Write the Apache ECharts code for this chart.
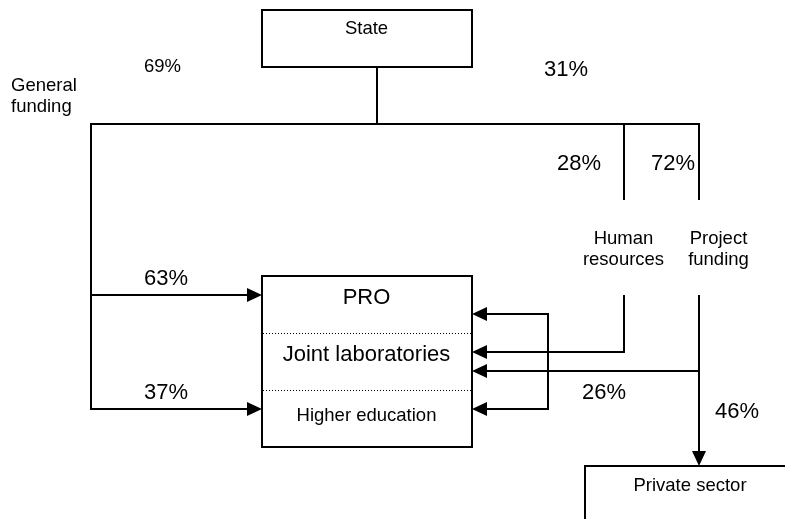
<!DOCTYPE html>
<html><head><meta charset="utf-8">
<script src="https://cdn.jsdelivr.net/npm/echarts@6/dist/echarts.min.js"></script>
<style>html,body{margin:0;padding:0;background:#fff}#c{width:785px;height:519px}</style>
</head><body><div id="c"></div>
<script>
// ---------------- data ----------------
const nodeNames = ['State', 'PRO', 'Joint laboratories', 'Higher education', 'Private sector'];
const channelNames = ['General\nfunding', 'Human\nresources', 'Project\nfunding'];
const stateShares = [69, 31];        // general funding / competitive funding
const generalShares = [63, 37];      // to PRO / to higher education
const competitiveShares = [28, 72];  // human resources / project funding
const projectShares = [26, 46];      // joint laboratories / private sector

// ---------------- layout (diagram units) ----------------
const FONT = '"Liberation Sans", Arial, sans-serif';
const boxLayout = [
  {x0: 262, y0: 10, x1: 472, y1: 67},
  {x0: 262, y0: 276, x1: 472, y1: 447},
  {x0: 585, y0: 466, x1: 810, y1: 560}
];
const dividerLayout = [333, 390];
const linkLayout = [
  {pts: [[377, 67], [377, 124]], start: false, end: false},
  {pts: [[699, 200], [699, 124], [91, 124], [91, 409], [262, 409]], start: false, end: true},
  {pts: [[624, 124], [624, 200]], start: false, end: false},
  {pts: [[91, 295], [262, 295]], start: false, end: true},
  {pts: [[472, 314], [548, 314], [548, 409], [472, 409]], start: true, end: true},
  {pts: [[624, 295], [624, 352], [472, 352]], start: false, end: true},
  {pts: [[699, 295], [699, 466]], start: false, end: true},
  {pts: [[699, 371], [472, 371]], start: false, end: true}
];
const pct = v => v + '%';
const textLayout = [
  {text: nodeNames[0], x: 366.5, y: 29, size: 18.5, align: 'center'},
  {text: nodeNames[1], x: 366.5, y: 298, size: 22, align: 'center'},
  {text: nodeNames[2], x: 366.5, y: 355, size: 22, align: 'center'},
  {text: nodeNames[3], x: 366.5, y: 416, size: 18.5, align: 'center'},
  {text: nodeNames[4], x: 690, y: 486, size: 18.5, align: 'center'},
  {text: channelNames[0], x: 11, y: 96.5, size: 18.5, align: 'left'},
  {text: channelNames[1], x: 623.5, y: 249, size: 18.5, align: 'center'},
  {text: channelNames[2], x: 718.5, y: 249, size: 18.5, align: 'center'},
  {text: pct(stateShares[0]), x: 162.5, y: 67, size: 18.5, align: 'center'},
  {text: pct(stateShares[1]), x: 566, y: 69.5, size: 22, align: 'center'},
  {text: pct(competitiveShares[0]), x: 579, y: 164, size: 22, align: 'center'},
  {text: pct(competitiveShares[1]), x: 673, y: 164, size: 22, align: 'center'},
  {text: pct(generalShares[0]), x: 166, y: 279, size: 22, align: 'center'},
  {text: pct(generalShares[1]), x: 166, y: 392.5, size: 22, align: 'center'},
  {text: pct(projectShares[0]), x: 604, y: 392.5, size: 22, align: 'center'},
  {text: pct(projectShares[1]), x: 737, y: 412, size: 22, align: 'center'}
];

const chart = echarts.init(document.getElementById('c'), null, {renderer: 'canvas'});

function arrowHead(tip, prev) {
  const dx = tip[0] - prev[0], dy = tip[1] - prev[1];
  const len = Math.sqrt(dx * dx + dy * dy) || 1;
  const ux = dx / len, uy = dy / len;
  const L = 15, Wd = 7;
  const bx = tip[0] - ux * L, by = tip[1] - uy * L;
  return {
    poly: [tip, [bx - uy * Wd, by + ux * Wd], [bx + uy * Wd, by - ux * Wd]],
    cut: [tip[0] - ux * 10, tip[1] - uy * 10]
  };
}

const idx = arr => arr.map((_, i) => [i]);

chart.setOption({
  animation: false,
  grid: {left: 0, right: 0, top: 0, bottom: 0},
  xAxis: {type: 'value', min: 0, max: 785, show: false},
  yAxis: {type: 'value', min: 0, max: 519, inverse: true, show: false},
  series: [
    {
      type: 'custom', name: 'boxes', coordinateSystem: 'cartesian2d', clip: false,
      data: idx(boxLayout),
      renderItem: function (params, api) {
        const b = boxLayout[api.value(0)];
        const p0 = api.coord([b.x0, b.y0]), p1 = api.coord([b.x1, b.y1]);
        const children = [{
          type: 'rect',
          shape: {x: p0[0], y: p0[1], width: p1[0] - p0[0], height: p1[1] - p0[1]},
          style: {fill: '#fff', stroke: '#000', lineWidth: 2}
        }];
        if (api.value(0) === 1) {
          dividerLayout.forEach(function (yy) {
            const a = api.coord([b.x0, yy]), c = api.coord([b.x1, yy]);
            children.push({
              type: 'line',
              shape: {x1: a[0] + 1, y1: a[1] + 0.5, x2: c[0] - 1, y2: c[1] + 0.5},
              style: {stroke: '#000', lineWidth: 1, lineDash: [1, 2]}
            });
          });
        }
        return {type: 'group', children: children};
      }
    },
    {
      type: 'custom', name: 'links', coordinateSystem: 'cartesian2d', clip: false,
      data: idx(linkLayout),
      renderItem: function (params, api) {
        const l = linkLayout[api.value(0)];
        const pts = l.pts.map(p => api.coord(p));
        const children = [];
        const linePts = pts.slice();
        if (l.end) {
          const h = arrowHead(pts[pts.length - 1], pts[pts.length - 2]);
          linePts[linePts.length - 1] = h.cut;
          children.push({type: 'polygon', shape: {points: h.poly}, style: {fill: '#000'}});
        }
        if (l.start) {
          const h = arrowHead(pts[0], pts[1]);
          linePts[0] = h.cut;
          children.push({type: 'polygon', shape: {points: h.poly}, style: {fill: '#000'}});
        }
        children.unshift({
          type: 'polyline', shape: {points: linePts},
          style: {stroke: '#000', lineWidth: 2, fill: null, lineJoin: 'miter'}
        });
        return {type: 'group', children: children};
      }
    },
    {
      type: 'custom', name: 'labels', coordinateSystem: 'cartesian2d', clip: false,
      data: idx(textLayout),
      renderItem: function (params, api) {
        const t = textLayout[api.value(0)];
        const p = api.coord([t.x, t.y]);
        return {
          type: 'text',
          style: {
            text: t.text, x: p[0], y: p[1], fill: '#000',
            fontSize: t.size, fontFamily: FONT, lineHeight: 21,
            align: t.align, verticalAlign: 'middle'
          }
        };
      }
    }
  ]
});
</script>
</body></html>
